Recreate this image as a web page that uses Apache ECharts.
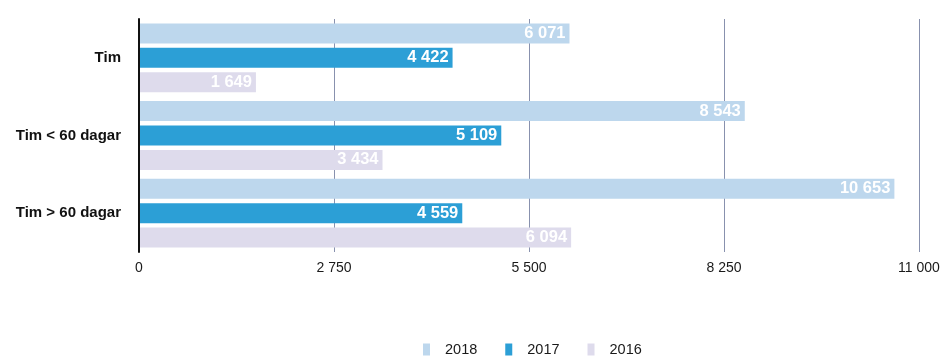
<!DOCTYPE html>
<html>
<head>
<meta charset="utf-8">
<script src="https://cdn.jsdelivr.net/npm/echarts@6/dist/echarts.min.js"></script>
<style>
  html, body { margin: 0; padding: 0; background: #ffffff; }
  #chart { width: 944px; height: 356px; }
</style>
</head>
<body>
<div id="chart"></div>
<script>
// Categories (top to bottom) and per-year values
const categories = ['Tim', 'Tim < 60 dagar', 'Tim > 60 dagar'];
const years = ['2018', '2017', '2016'];
const values2018 = [6071, 8543, 10653];
const values2017 = [4422, 5109, 4559];
const values2016 = [1649, 3434, 6094];
const axisTicks = [0, 2750, 5500, 8250, 11000];

const colors = ['#bdd7ed', '#2c9fd6', '#dedbec'];

// Swedish-style thousands separator (space)
function fmt(v) {
  return String(v).replace(/\B(?=(\d{3})+(?!\d))/g, ' ');
}

const seriesValues = [values2018, values2017, values2016];

const chart = echarts.init(document.getElementById('chart'), null, { renderer: 'canvas' });

chart.setOption({
  animation: false,
  textStyle: { fontFamily: 'Liberation Sans, Arial, sans-serif' },
  grid: { left: 139, right: 25, top: 19, bottom: 104, containLabel: false },
  legend: {
    data: years,
    top: 342,
    left: 423,
    padding: 0,
    icon: 'rect',
    itemWidth: 7,
    itemHeight: 12,
    itemGap: 28,
    textStyle: { fontSize: 14.5, color: '#1a1a1a', padding: [0, 0, 0, 10] }
  },
  xAxis: {
    type: 'value',
    min: axisTicks[0],
    max: axisTicks[axisTicks.length - 1],
    interval: axisTicks[1] - axisTicks[0],
    axisLine: { show: false },
    axisTick: { show: false },
    axisLabel: {
      color: '#1a1a1a',
      fontSize: 14,
      margin: 9,
      formatter: v => fmt(v)
    },
    splitLine: {
      show: true,
      lineStyle: { color: '#8891ae', width: 1 }
    }
  },
  yAxis: {
    type: 'category',
    data: categories,
    inverse: true,
    z: 10,
    axisLine: { show: true, lineStyle: { color: '#111111', width: 2 } },
    axisTick: { show: false },
    axisLabel: {
      color: '#111111',
      fontSize: 15,
      fontWeight: 'bold',
      margin: 18
    }
  },
  series: years.map((y, i) => ({
    name: y,
    type: 'bar',
    data: seriesValues[i],
    barWidth: 20,
    barGap: '22%',
    itemStyle: { color: colors[i] },
    label: {
      show: true,
      position: 'insideRight',
      distance: 4,
      color: '#ffffff',
      fontSize: 16.5,
      fontWeight: 'bold',
      formatter: p => fmt(p.value)
    }
  }))
});
</script>
</body>
</html>
